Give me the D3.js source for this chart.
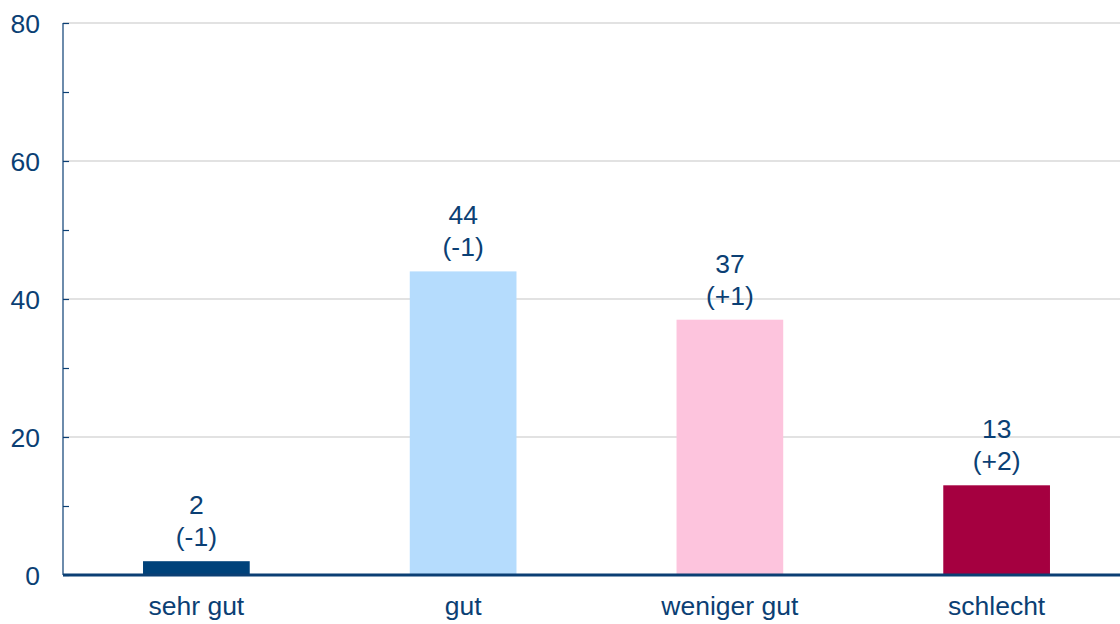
<!DOCTYPE html>
<meta charset="utf-8" />
<script src="https://d3js.org/d3.v7.min.js"></script>
<style>
  body { margin: 0; background: #fff; }
  text { font-family: Arial, "Liberation Sans", sans-serif; font-size: 26.5px; }
</style>
<svg width="1120" height="624" id="chart"></svg>
<script>
  // data
  var categories = ["sehr gut", "gut", "weniger gut", "schlecht"];
  var values = [2, 44, 37, 13];
  var changes = ["(-1)", "(-1)", "(+1)", "(+2)"];
  var colors = ["#00427a", "#b5dcfd", "#fdc4dd", "#a50040"];
  var yTicks = [0, 20, 40, 60, 80];

  var svg = d3.select("#chart"),
    mLeft = 63, mRight = 1130, mTop = 23, mBottom = 575,
    ink = "#0b3f74";

  var x = d3.scaleBand()
    .domain(categories)
    .range([mLeft, mRight])
    .paddingInner(0.6)
    .paddingOuter(0.3);

  var y = d3.scaleLinear()
    .domain([0, 80])
    .range([mBottom, mTop]);

  // gridlines
  svg.append("g")
    .selectAll("line")
    .data(yTicks.slice(1))
    .enter()
    .append("line")
    .attr("x1", mLeft).attr("x2", 1120)
    .attr("y1", function (d) { return y(d); })
    .attr("y2", function (d) { return y(d); })
    .style("stroke", "#d9d9d9")
    .style("stroke-width", 1.5);

  // y axis, ticks every 10 pointing inward
  var yAxis = svg.append("g")
    .attr("transform", "translate(" + mLeft + ",0)")
    .call(d3.axisRight(y).tickValues(d3.range(0, 81, 10)).tickSize(6).tickFormat(""));
  yAxis.select(".domain").attr("d", "M0," + mTop + "V" + mBottom);
  yAxis.selectAll("line, path").style("stroke", ink).style("stroke-width", 1.2);

  // y tick labels
  svg.append("g")
    .selectAll("text")
    .data(yTicks)
    .enter()
    .append("text")
    .attr("x", 40)
    .attr("y", function (d) { return y(d); })
    .attr("dy", "0.36em")
    .attr("text-anchor", "end")
    .style("fill", ink)
    .text(function (d) { return d; });

  // bars
  svg.append("g")
    .selectAll("rect")
    .data(values)
    .enter()
    .append("rect")
    .attr("x", function (d, i) { return x(categories[i]); })
    .attr("y", function (d) { return y(d); })
    .attr("width", x.bandwidth())
    .attr("height", function (d) { return y(0) - y(d); })
    .style("fill", function (d, i) { return colors[i]; });

  // baseline
  svg.append("line")
    .attr("x1", mLeft).attr("x2", 1120)
    .attr("y1", y(0)).attr("y2", y(0))
    .style("stroke", ink)
    .style("stroke-width", 3);

  // value labels
  var labels = svg.append("g")
    .selectAll("g")
    .data(values)
    .enter()
    .append("g")
    .attr("transform", function (d, i) {
      return "translate(" + (x(categories[i]) + x.bandwidth() / 2) + "," + y(d) + ")";
    });
  labels.append("text")
    .attr("y", -47)
    .attr("text-anchor", "middle")
    .style("fill", ink)
    .text(function (d) { return d; });
  labels.append("text")
    .attr("y", -15)
    .attr("text-anchor", "middle")
    .style("fill", ink)
    .text(function (d, i) { return changes[i]; });

  // category labels
  svg.append("g")
    .selectAll("text")
    .data(categories)
    .enter()
    .append("text")
    .attr("x", function (d) { return x(d) + x.bandwidth() / 2; })
    .attr("y", 615)
    .attr("text-anchor", "middle")
    .style("fill", ink)
    .text(function (d) { return d; });
</script>
